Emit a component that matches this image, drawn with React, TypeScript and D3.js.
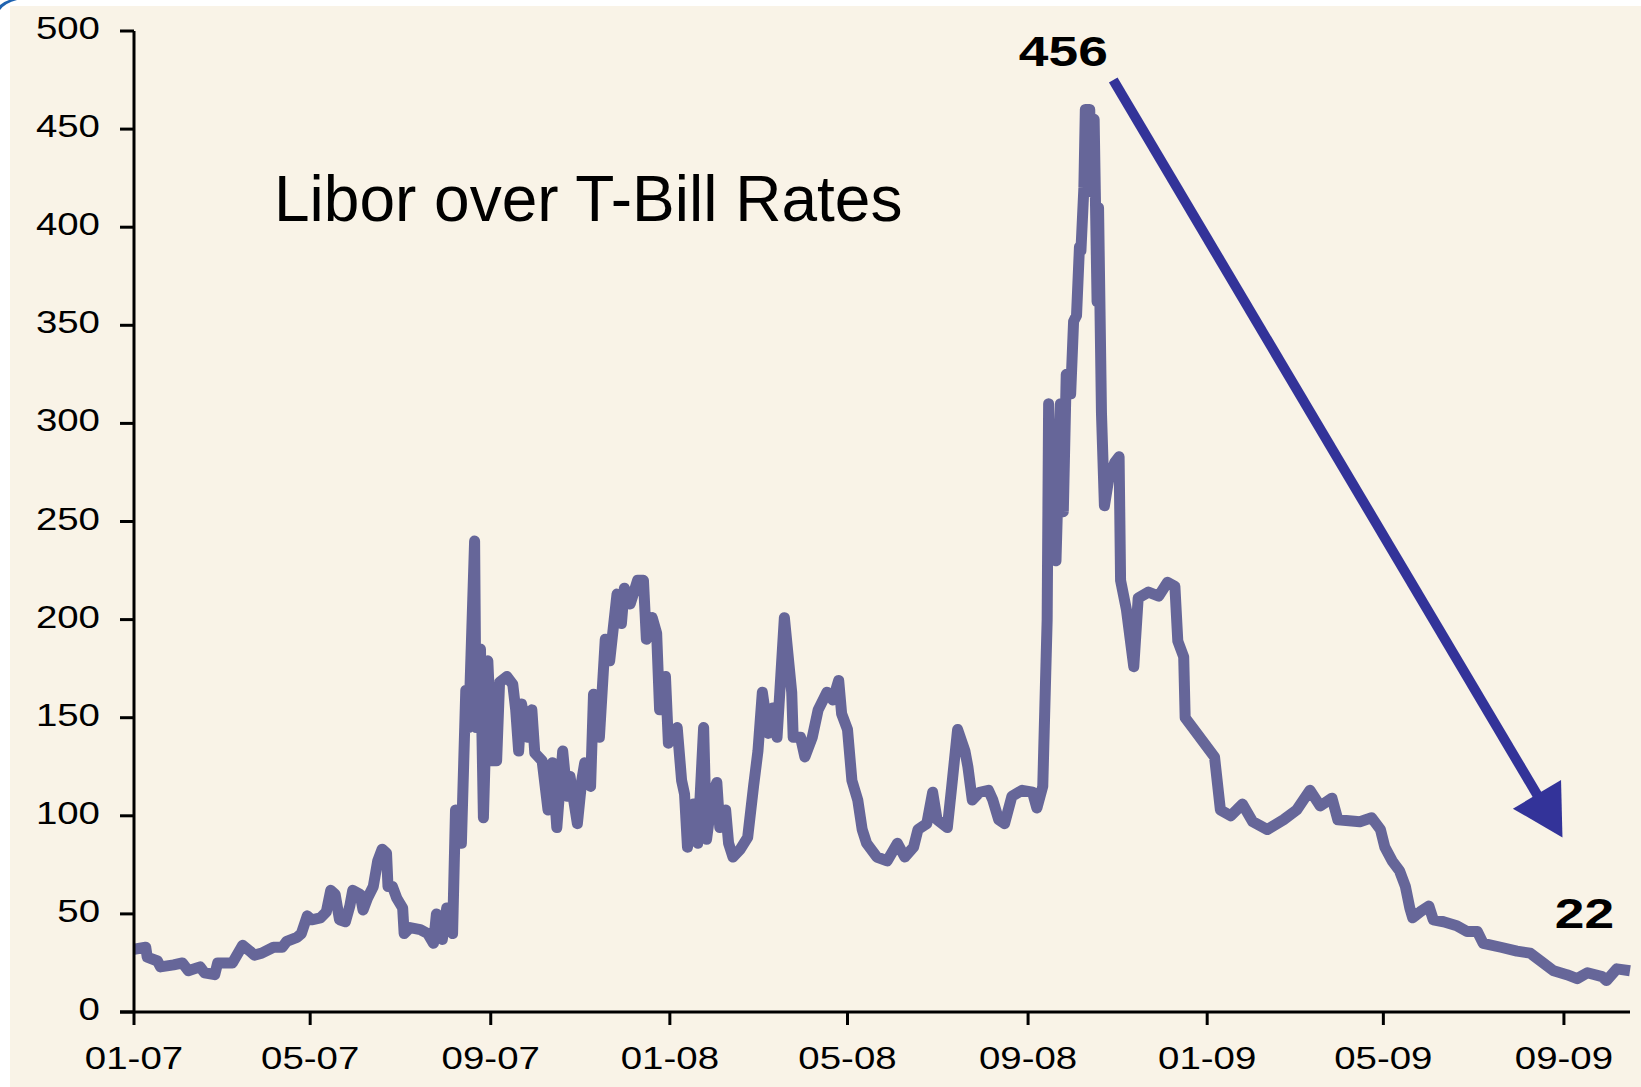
import React from 'react';
import * as d3 from 'd3';

// ---- data ----
const startDate = new Date(2007, 0, 1);
const endDay = 1019;

// day offsets from 2007-01-01
const dayOffsets = [
  0, 8, 9, 16, 18, 27, 33, 37, 45, 48, 55, 57, 65, 67, 74, 79, 82, 87, 95, 101,
  104, 111, 114, 118, 121, 127, 131, 134, 137, 140, 144, 147, 149, 154, 156, 159, 163, 166, 169, 172,
  173, 176, 179, 183, 184, 188, 195, 200, 204, 206, 210, 213, 217, 219, 221, 223, 226, 228, 232, 233,
  236, 238, 241, 244, 247, 249, 254, 258, 260, 262, 264, 268, 271, 273, 278, 282, 285, 288, 292, 295,
  297, 302, 305, 307, 311, 313, 317, 321, 324, 329, 332, 334, 338, 343, 347, 349, 353, 356, 358, 362,
  364, 370, 373, 375, 377, 381, 384, 388, 390, 394, 397, 399, 403, 405, 408, 413, 418, 422, 425, 428,
  432, 435, 438, 443, 448, 449, 454, 457, 462, 466, 472, 476, 480, 482, 486, 489, 493, 496, 499, 506,
  513, 520, 525, 531, 534, 540, 544, 547, 554, 557, 561, 566, 568, 571, 576, 582, 585, 589, 593, 598,
  605, 612, 615, 619, 622, 623, 625, 628, 631, 633, 635, 638, 640, 642, 644, 645, 647, 648, 651, 652,
  654, 656, 657, 659, 661, 664, 668, 671, 672, 676, 681, 684, 691, 698, 704, 709, 711, 715, 716, 721,
  728, 736, 740, 747, 755, 762, 772, 783, 792, 801, 808, 816, 820, 835, 843, 849, 852, 857, 862, 866,
  869, 871, 876, 882, 885, 892, 901, 908, 915, 919, 931, 942, 951, 958, 967, 976, 983, 990, 1000, 1003,
  1010, 1019,
];

// Libor over T-Bill spread (basis points)
const spreadValues = [
  32, 33, 28, 26, 23, 24, 25, 21, 23, 20, 19, 25, 25, 25, 34, 31, 29, 30, 33, 33,
  36, 38, 40, 49, 47, 48, 51, 62, 60, 47, 46, 54, 62, 60, 52, 58, 64, 77, 83, 81,
  64, 64, 58, 53, 40, 43, 42, 40, 35, 50, 37, 53, 40, 103, 100, 86, 164, 145, 240, 145,
  185, 99, 179, 128, 128, 168, 171, 167, 154, 133, 157, 140, 154, 132, 128, 103, 127, 94, 133, 110,
  120, 96, 118, 127, 115, 162, 140, 190, 179, 213, 198, 216, 208, 220, 220, 190, 201, 193, 154, 171,
  137, 145, 118, 111, 84, 106, 86, 145, 88, 111, 117, 94, 103, 86, 79, 83, 89, 115, 133, 163,
  142, 155, 140, 201, 163, 140, 140, 130, 140, 154, 163, 159, 169, 152, 144, 118, 108, 93, 86, 79,
  77, 86, 79, 84, 93, 96, 112, 98, 94, 115, 144, 133, 125, 108, 112, 113, 108, 98, 96, 110,
  113, 112, 104, 115, 200, 310, 235, 230, 310, 255, 325, 315, 352, 355, 390, 388, 420, 460, 460, 418,
  455, 362, 410, 305, 258, 272, 280, 283, 220, 205, 176, 211, 214, 212, 219, 217, 189, 181, 150, 145,
  138, 130, 103, 100, 106, 97, 93, 98, 103, 113, 105, 109, 98, 97, 99, 93, 84, 77, 72, 64,
  53, 48, 51, 54, 47, 46, 44, 41, 41, 35, 33, 31, 30, 26, 21, 19, 17, 20, 18, 16,
  22, 21,
];

const yTickValues = [0, 50, 100, 150, 200, 250, 300, 350, 400, 450, 500];
const xTickDates = ['2007-01-01', '2007-05-01', '2007-09-01', '2008-01-01', '2008-05-01', '2008-09-01', '2009-01-01', '2009-05-01', '2009-09-01'];
const xTickLabels = ['01-07', '05-07', '09-07', '01-08', '05-08', '09-08', '01-09', '05-09', '09-09'];

const chartTitle = 'Libor over T-Bill Rates';
const calloutTexts = ['456', '22'];
const calloutDays = [633, 988];
const calloutValues = [482, 43];
const arrowDays = [667, 973.5];
const arrowValues = [475, 89];

const parseDay = d3.timeParse('%Y-%m-%d');

export default function App() {
  const W = 1641;
  const H = 1087;
  const x = d3.scaleTime().domain([startDate, d3.timeDay.offset(startDate, endDay)]).range([134, 1630]);
  const y = d3.scaleLinear().domain([0, 500]).range([1012, 31]);

  const points: [Date, number][] = dayOffsets.map((d, i) => [d3.timeDay.offset(startDate, d), spreadValues[i]]);
  const line = d3.line<[Date, number]>().x((d) => x(d[0])).y((d) => y(d[1]));
  const path = line(points) || '';

  const axisFont = 'Liberation Sans, Arial, sans-serif';
  const stretch = 1.24;

  // arrow geometry
  const ax0 = x(d3.timeDay.offset(startDate, arrowDays[0]));
  const ay0 = y(arrowValues[0]);
  const ax1 = x(d3.timeDay.offset(startDate, arrowDays[1]));
  const ay1 = y(arrowValues[1]);
  const dx = ax1 - ax0;
  const dy = ay1 - ay0;
  const len = Math.sqrt(dx * dx + dy * dy);
  const ux = dx / len;
  const uy = dy / len;
  const headLen = 50;
  const headHalf = 28;
  const bx = ax1 - ux * headLen;
  const by = ay1 - uy * headLen;
  const head = `M${ax1},${ay1} L${bx - uy * headHalf},${by + ux * headHalf} L${bx + uy * headHalf},${by - ux * headHalf} Z`;

  const xAxisY = y(0);

  return (
    <svg width={W} height={H} style={{ position: 'absolute', left: 0, top: 0, display: 'block' }}>
      <rect x={0} y={0} width={W} height={H} fill="#ffffff" />
      <rect x={10} y={6} width={W - 10} height={H - 6} fill="#f9f3e7" />
      <path d="M0,10 Q5,3 17,0 L9,0 Q3,2 0,5 Z" fill="#1f63b0" />

      {/* title */}
      <text x={274} y={221} fontFamily={axisFont} fontSize={64} fill="#000">{chartTitle}</text>

      {/* data line */}
      <path d={path} fill="none" stroke="#666699" strokeWidth={11} strokeLinejoin="round" strokeLinecap="butt" />

      {/* axes */}
      <line x1={x.range()[0]} x2={x.range()[0]} y1={y(500)} y2={xAxisY} stroke="#000" strokeWidth={3} />
      <line x1={120} x2={x.range()[1]} y1={xAxisY} y2={xAxisY} stroke="#000" strokeWidth={3} />
      {yTickValues.map((v) => (
        <g key={v}>
          <line x1={120} x2={134} y1={y(v)} y2={y(v)} stroke="#000" strokeWidth={3} />
          <text
            transform={`translate(100,${y(v) + 8}) scale(${stretch},1)`}
            textAnchor="end"
            fontFamily={axisFont}
            fontSize={31}
            fill="#000"
          >
            {v}
          </text>
        </g>
      ))}
      {xTickDates.map((ds, i) => {
        const xx = x(parseDay(ds) as Date);
        return (
          <g key={ds}>
            <line x1={xx} x2={xx} y1={xAxisY} y2={xAxisY + 13} stroke="#000" strokeWidth={3} />
            <text
              transform={`translate(${xx},${1069}) scale(${stretch},1)`}
              textAnchor="middle"
              fontFamily={axisFont}
              fontSize={31}
              fill="#000"
            >
              {xTickLabels[i]}
            </text>
          </g>
        );
      })}

      {/* arrow */}
      <line x1={ax0} y1={ay0} x2={bx + ux * 2} y2={by + uy * 2} stroke="#333399" strokeWidth={10} />
      <path d={head} fill="#333399" />

      {/* callouts */}
      {calloutTexts.map((t, i) => (
        <text
          key={t}
          transform={`translate(${x(d3.timeDay.offset(startDate, calloutDays[i]))},${y(calloutValues[i])}) scale(${stretch},1)`}
          textAnchor="middle"
          fontFamily={axisFont}
          fontWeight="bold"
          fontSize={43}
          fill="#000"
        >
          {t}
        </text>
      ))}
    </svg>
  );
}
